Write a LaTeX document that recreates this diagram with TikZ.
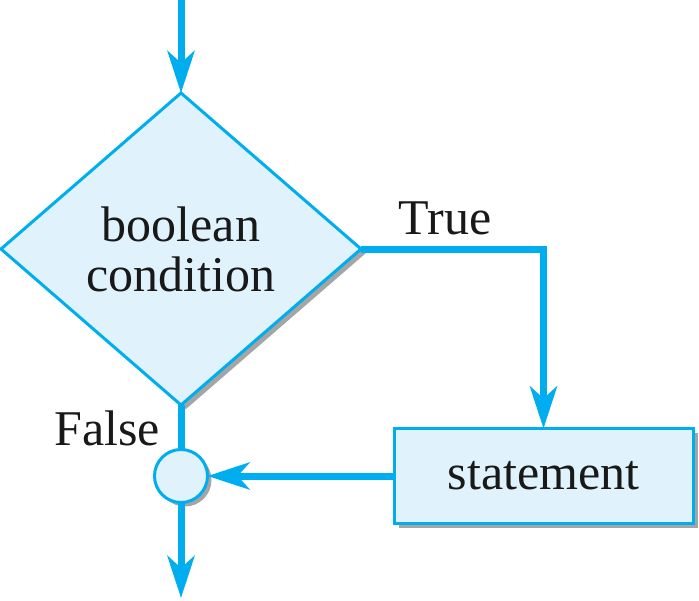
\documentclass[tikz,border=0pt]{standalone}
\usepackage{fontspec}
\setmainfont{Liberation Serif}
\usetikzlibrary{shapes.geometric,arrows.meta}
\definecolor{flowblue}{RGB}{0,174,239}
\definecolor{flowfill}{RGB}{224,242,252}
\definecolor{shadowgray}{RGB}{165,165,165}
\begin{document}
\begin{tikzpicture}[x=1pt,y=-1pt,
  every node/.style={font=\fontsize{50}{50}\selectfont, text=black!90},
  boxshape/.style={draw=flowblue, fill=flowfill, line width=3pt, outer sep=0pt, inner sep=0pt},
  shadowshape/.style={fill=shadowgray, inner sep=0pt, outer sep=0pt},
  flow/.style={draw=flowblue, line width=7pt, -{Stealth[length=42pt,width=27pt,inset=12pt]}},
  plainflow/.style={draw=flowblue, line width=7pt},
  lbl/.style={inner sep=0pt}]
\useasboundingbox (0,0) rectangle (699,600);
% shadows
\node[shadowshape, diamond, minimum width=360pt, minimum height=312pt] (decsh) at (186,253) {};
\node[shadowshape, rectangle, minimum width=299pt, minimum height=95pt] (stmtsh) at (548,480) {};
\node[shadowshape, circle, minimum size=53pt] (joinsh) at (185,480) {};
% shapes
\node[boxshape, diamond, minimum width=360pt, minimum height=312pt, align=center] (dec) at (181,249) {boolean\\condition};
\node[boxshape, rectangle, minimum width=299pt, minimum height=95pt] (stmt) at (543.5,476) {statement};
\node[boxshape, circle, minimum size=53pt] (join) at (181,476) {};
% connectors
\coordinate (start) at (181,0);
\coordinate (finish) at (181,598);
\draw[flow] (start) -- (dec.north);
\draw[flow] (dec.east) -| (stmt.north);
\draw[flow] (stmt.west) -- (join.east);
\draw[plainflow] (dec.south) -- (join.north);
\draw[flow] (join.south) -- (finish);
% labels
\node[lbl] (truelbl) at (445,218) {True};
\node[lbl] (falselbl) at (107,428) {False};
\end{tikzpicture}
\end{document}
